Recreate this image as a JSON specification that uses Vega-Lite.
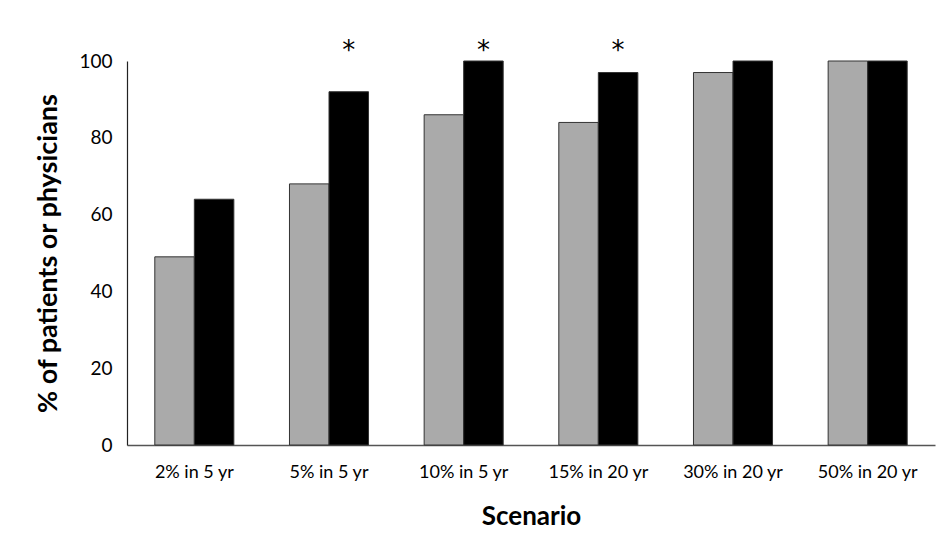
{
  "$schema": "https://vega.github.io/schema/vega-lite/v6.json",
  "autosize": "none",
  "padding": {"left": 127, "top": 61, "right": 12, "bottom": 90},
  "width": 808,
  "height": 384,
  "background": "white",
  "config": {"view": {"stroke": null}, "font": "Lato"},
  "data": {
    "values": [
      {"scenario": "2% in 5 yr", "group": "Patients", "value": 49, "star": false},
      {"scenario": "2% in 5 yr", "group": "Physicians", "value": 64, "star": false},
      {"scenario": "5% in 5 yr", "group": "Patients", "value": 68, "star": false},
      {"scenario": "5% in 5 yr", "group": "Physicians", "value": 92, "star": true},
      {"scenario": "10% in 5 yr", "group": "Patients", "value": 86, "star": false},
      {"scenario": "10% in 5 yr", "group": "Physicians", "value": 100, "star": true},
      {"scenario": "15% in 20 yr", "group": "Patients", "value": 84, "star": false},
      {"scenario": "15% in 20 yr", "group": "Physicians", "value": 97, "star": true},
      {"scenario": "30% in 20 yr", "group": "Patients", "value": 97, "star": false},
      {"scenario": "30% in 20 yr", "group": "Physicians", "value": 100, "star": false},
      {"scenario": "50% in 20 yr", "group": "Patients", "value": 100, "star": false},
      {"scenario": "50% in 20 yr", "group": "Physicians", "value": 100, "star": false}
    ]
  },
  "encoding": {
    "x": {
      "field": "scenario",
      "type": "nominal",
      "sort": null,
      "scale": {"paddingInner": 0.413, "paddingOuter": 0.2065},
      "axis": {
        "title": "Scenario",
        "titleFontSize": 26,
        "titleFontWeight": "bold",
        "titleColor": "black",
        "titlePadding": 22,
        "labelAngle": 0,
        "labelFontSize": 18,
        "labelColor": "black",
        "labelPadding": 18,
        "ticks": false,
        "domainColor": "#555",
        "domainWidth": 1.5
      }
    },
    "xOffset": {"field": "group", "type": "nominal", "scale": {"paddingInner": 0}},
    "y": {
      "type": "quantitative",
      "scale": {"domain": [0, 100]},
      "axis": {
        "title": "% of patients or physicians",
        "titleFontSize": 27,
        "titleFontWeight": "bold",
        "titleColor": "black",
        "titlePadding": 16,
        "values": [0, 20, 40, 60, 80, 100],
        "labelFontSize": 19,
        "labelColor": "black",
        "labelPadding": 15,
        "ticks": false,
        "grid": false,
        "domainColor": "#222",
        "domainWidth": 1.2
      }
    }
  },
  "layer": [
    {
      "mark": {"type": "bar", "stroke": "#333", "strokeWidth": 1},
      "encoding": {
        "y": {"field": "value", "type": "quantitative"},
        "color": {
          "field": "group",
          "type": "nominal",
          "scale": {"domain": ["Patients", "Physicians"], "range": ["#aaaaaa", "#000000"]},
          "legend": null
        }
      }
    },
    {
      "transform": [{"filter": "datum.star"}],
      "mark": {"type": "text", "text": "*", "fontSize": 26, "baseline": "middle", "color": "black", "font": "DejaVu Sans", "dy": 5},
      "encoding": {
        "y": {"datum": 104}
      }
    }
  ]
}
